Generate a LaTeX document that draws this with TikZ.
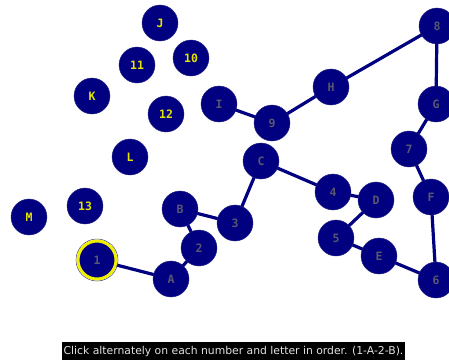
\documentclass[tikz,border=0pt]{standalone}
\usepackage{fontspec}
\newfontfamily\lblfont{DejaVu Sans Mono}
\newfontfamily\capfont{DejaVu Sans}
\definecolor{navyfill}{RGB}{0,0,128}
\definecolor{lblgray}{RGB}{88,88,112}
\definecolor{lblyellow}{RGB}{228,228,0}
\definecolor{ringyellow}{RGB}{240,240,0}
\definecolor{capgray}{RGB}{225,225,225}
\tikzset{
  dot/.style={circle, fill=navyfill, draw=navyfill!70!gray, line width=0.4pt, minimum size=36pt, inner sep=0pt, font=\lblfont\bfseries\fontsize{11.5}{11.5}\selectfont},
  done/.style={dot, text=lblgray},
  todo/.style={dot, text=lblyellow},
  link/.style={draw=navyfill, line width=3.2pt},
}
\begin{document}
\begin{tikzpicture}[x=1pt,y=-1pt]
\useasboundingbox (0,0) rectangle (449,360);
\coordinate (p1) at (97,260);
\coordinate (pA) at (171,279);
\coordinate (p2) at (199,248);
\coordinate (pB) at (180,209);
\coordinate (p3) at (235,223);
\coordinate (pC) at (261,161);
\coordinate (p4) at (333,192);
\coordinate (pD) at (376,200);
\coordinate (p5) at (336,238);
\coordinate (pE) at (379,256);
\coordinate (p6) at (436,280);
\coordinate (pF) at (431,197);
\coordinate (p7) at (409,149);
\coordinate (pG) at (436,104);
\coordinate (p8) at (437,26);
\coordinate (pH) at (331,87);
\coordinate (p9) at (272,123);
\coordinate (pI) at (219,104);
\draw[link] (p1) -- (pA) -- (p2) -- (pB) -- (p3) -- (pC) -- (p4) -- (pD) -- (p5) -- (pE) -- (p6) -- (pF) -- (p7) -- (pG) -- (p8) -- (pH) -- (p9) -- (pI);
\draw[draw=navyfill!60!gray, line width=0.5pt] (p1) circle (21);
\node[done, draw=ringyellow, line width=3pt, minimum size=38pt] (n1) at (p1) {1};
\node[done] (nA) at (pA) {A};
\node[done] (n2) at (p2) {2};
\node[done] (nB) at (pB) {B};
\node[done] (n3) at (p3) {3};
\node[done] (nC) at (pC) {C};
\node[done] (n4) at (p4) {4};
\node[done] (nD) at (pD) {D};
\node[done] (n5) at (p5) {5};
\node[done] (nE) at (pE) {E};
\node[done] (n6) at (p6) {6};
\node[done] (nF) at (pF) {F};
\node[done] (n7) at (p7) {7};
\node[done] (nG) at (pG) {G};
\node[done] (n8) at (p8) {8};
\node[done] (nH) at (pH) {H};
\node[done] (n9) at (p9) {9};
\node[done] (nI) at (pI) {I};
\node[todo] (nJ) at (160,23) {J};
\node[todo] (n10) at (191,58) {10};
\node[todo] (n11) at (137,65) {11};
\node[todo] (nK) at (92,96) {K};
\node[todo] (n12) at (166,114) {12};
\node[todo] (nL) at (130,157) {L};
\node[todo] (n13) at (85,206) {13};
\node[todo] (nM) at (29,217) {M};
\fill[black] (62,342) rectangle (405,360);
\node[text=capgray, font=\capfont\fontsize{10.8}{11}\selectfont, inner sep=0pt] (cap) at (233.5,351.5) {Click alternately on each number and letter in order. (1-A-2-B).};
\end{tikzpicture}
\end{document}
